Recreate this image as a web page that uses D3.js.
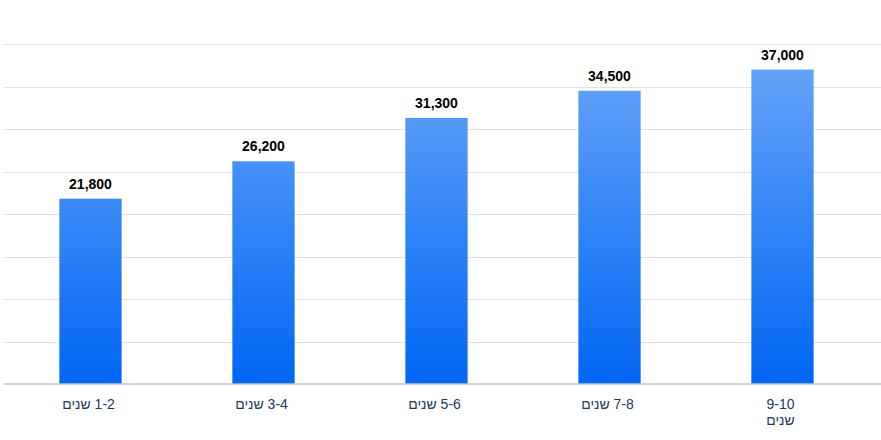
<!DOCTYPE html>
<html>
<head>
<meta charset="utf-8">
<script src="https://cdn.jsdelivr.net/npm/d3@7"></script>
<style>
    body { margin: 0; background: #fff; }
    svg { display: block; font-family: Arial, "Liberation Sans", sans-serif; }
</style>
</head>
<body>
<svg id="chart"></svg>
<script>
const categories = ["1-2 שנים", "3-4 שנים", "5-6 שנים", "7-8 שנים", "9-10 שנים"];
const values = [21800, 26200, 31300, 34500, 37000];
const yTicks = [0, 5000, 10000, 15000, 20000, 25000, 30000, 35000, 40000];

const width = 881;
const height = 440;
const plotLeft = 4, plotRight = 869, plotTop = 44, plotBottom = 384;

const svg = d3.select("#chart")
    .attr("width", width)
    .attr("height", height);

const x = d3.scaleBand()
    .domain(categories)
    .range([plotLeft, plotRight])
    .paddingInner(0.64)
    .paddingOuter(0.32);

const y = d3.scaleLinear()
    .domain([0, 40000])
    .range([plotBottom, plotTop]);

// gradient spans the whole plot height
const grad = svg.append("defs").append("linearGradient")
    .attr("id", "barGrad")
    .attr("gradientUnits", "userSpaceOnUse")
    .attr("x1", 0).attr("x2", 0)
    .attr("y1", y(40000)).attr("y2", y(0));
grad.append("stop").attr("offset", "0%").attr("stop-color", "#6ba8f8");
grad.append("stop").attr("offset", "100%").attr("stop-color", "#0066f4");

// gridlines
svg.append("g")
    .selectAll("line")
    .data(yTicks.filter(d => d > 0))
    .enter()
    .append("line")
    .attr("x1", plotLeft)
    .attr("x2", width)
    .attr("y1", d => Math.round(y(d)) + 0.5)
    .attr("y2", d => Math.round(y(d)) + 0.5)
    .attr("stroke", "#e3e3e3")
    .attr("stroke-width", 1);

const data = categories.map((c, i) => ({ name: c, value: values[i] }));

svg.append("g")
    .selectAll("rect")
    .data(data)
    .enter()
    .append("rect")
    .attr("x", d => x(d.name))
    .attr("y", d => y(d.value))
    .attr("width", x.bandwidth())
    .attr("height", d => y(0) - y(d.value))
    .attr("fill", "url(#barGrad)");

// baseline
svg.append("line")
    .attr("x1", plotLeft)
    .attr("x2", width)
    .attr("y1", y(0))
    .attr("y2", y(0))
    .attr("stroke", "#c4c4c4")
    .attr("stroke-width", 1.5);

// value labels
svg.append("g")
    .selectAll("text")
    .data(data)
    .enter()
    .append("text")
    .attr("x", d => x(d.name) + x.bandwidth() / 2)
    .attr("y", d => y(d.value) - 10)
    .attr("text-anchor", "middle")
    .attr("font-size", "14px")
    .attr("font-weight", "bold")
    .attr("fill", "#000")
    .text(d => d3.format(",")(d.value));

// category labels, wrapped when too wide
const labelX = d => x(d) + x.bandwidth() / 2 - 2;
const labels = svg.append("g")
    .selectAll("text")
    .data(categories)
    .enter()
    .append("text")
    .attr("x", labelX)
    .attr("y", 409)
    .attr("text-anchor", "middle")
    .attr("font-size", "14px")
    .attr("fill", "#253858")
    .style("direction", "rtl");

labels.each(function (d) {
    const t = d3.select(this);
    t.text(d);
    if (this.getComputedTextLength() > 58) {
        t.text(null);
        d.split(" ").forEach((w, i) => {
            t.append("tspan")
                .attr("x", labelX(d))
                .attr("y", 409 + i * 16)
                .text(w);
        });
    }
});
</script>
</body>
</html>
